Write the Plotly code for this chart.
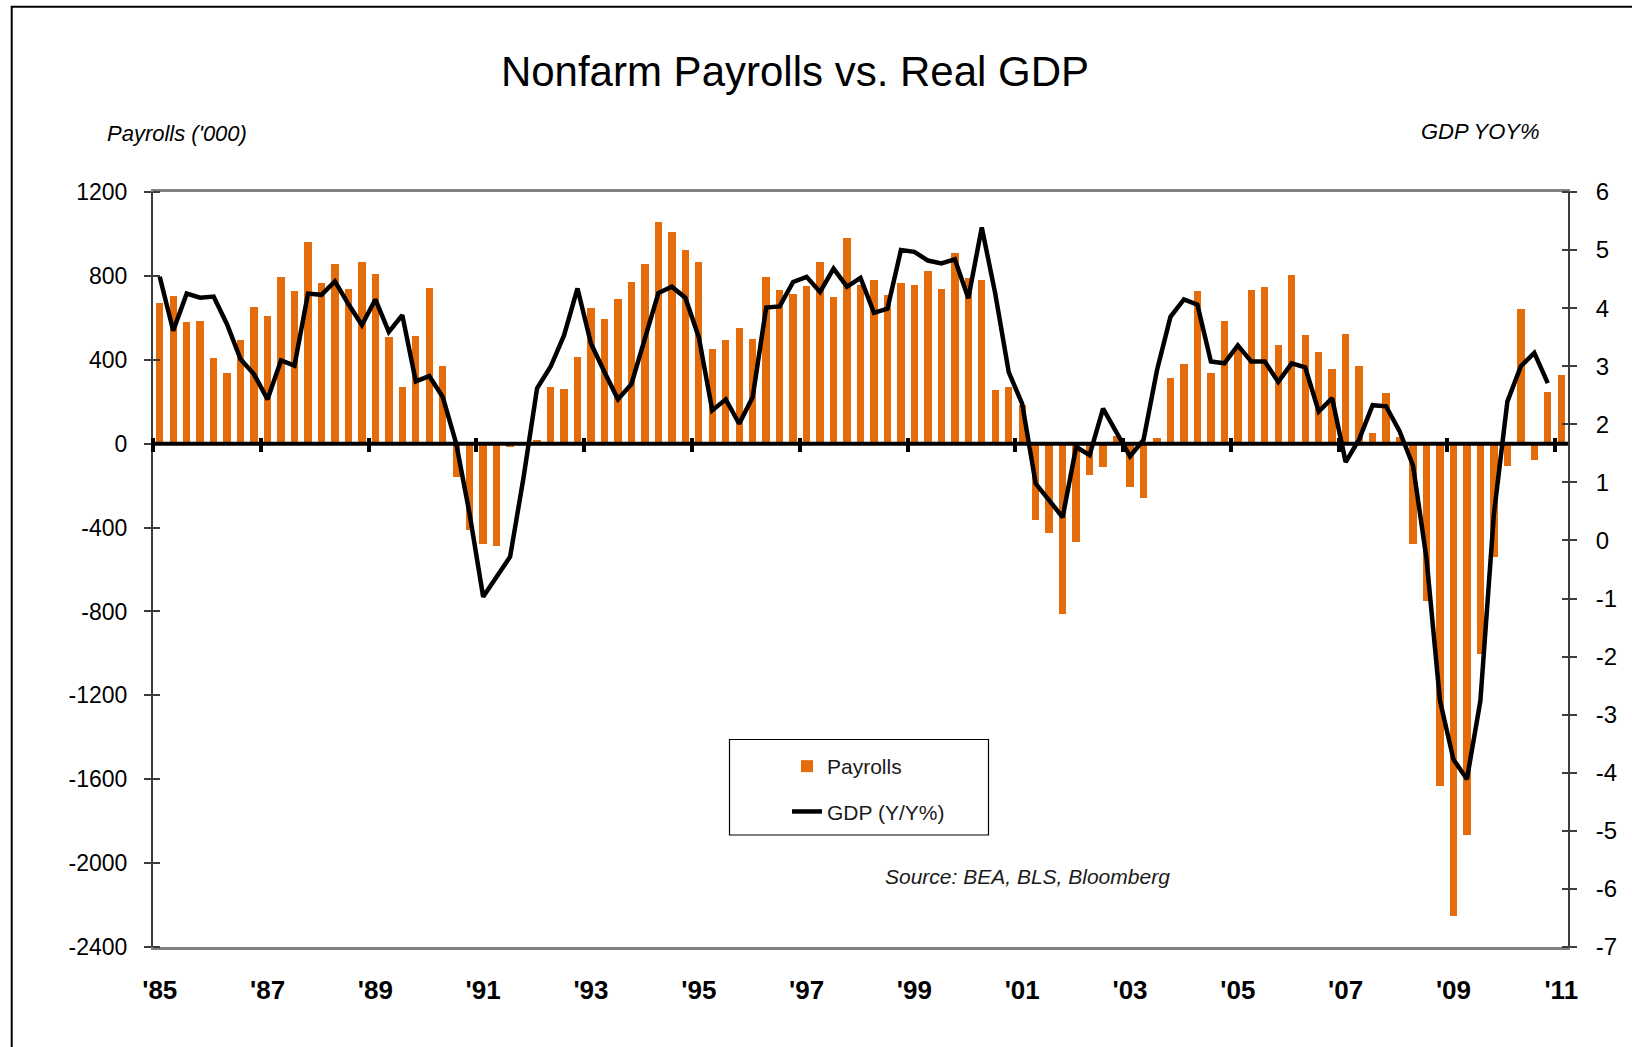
import plotly.graph_objects as go

# ---------------- data ----------------
quarters = [f"{y}Q{q}" for y in range(1985, 2012) for q in range(1, 5)][:105]

payrolls = [
    672, 704, 579, 586, 408, 339, 493, 654, 611, 795, 728, 962, 765, 858, 739, 864,
    808, 507, 272, 514, 741, 371, -160, -411, -480, -486, -16, 5, 16, 272, 261, 414,
    648, 594, 691, 771, 858, 1059, 1011, 925, 864, 451, 494, 550, 501, 795, 734, 715,
    752, 864, 698, 979, 755, 779, 710, 765, 758, 821, 739, 907, 789, 782, 254, 272,
    184, -365, -426, -813, -469, -149, -112, 38, -205, -258, 26, 315, 382, 726, 339, 586,
    460, 734, 747, 470, 806, 516, 437, 357, 523, 369, 51, 242, 34, -479, -752, -1630,
    -2254, -1864, -1004, -542, -105, 640, -77, 246, 327,
]

gdp_yoy = [
    4.54, 3.61, 4.25, 4.18, 4.20, 3.72, 3.12, 2.86, 2.43, 3.10, 3.01, 4.25, 4.23, 4.46, 4.07, 3.71,
    4.15, 3.59, 3.88, 2.74, 2.83, 2.47, 1.67, 0.45, -0.97, -0.63, -0.28, 1.09, 2.62, 2.99, 3.53, 4.34,
    3.39, 2.90, 2.43, 2.69, 3.50, 4.26, 4.37, 4.18, 3.50, 2.24, 2.43, 2.01, 2.47, 4.01, 4.03, 4.45,
    4.54, 4.28, 4.68, 4.37, 4.52, 3.92, 3.99, 5.00, 4.97, 4.82, 4.77, 4.84, 4.17, 5.39, 4.25, 2.90,
    2.35, 0.98, 0.69, 0.40, 1.61, 1.47, 2.27, 1.84, 1.45, 1.73, 2.93, 3.85, 4.15, 4.06, 3.08, 3.05,
    3.36, 3.08, 3.08, 2.73, 3.05, 2.98, 2.22, 2.45, 1.35, 1.74, 2.33, 2.31, 1.88, 1.29, -0.31, -2.76,
    -3.77, -4.11, -2.76, 0.45, 2.39, 3.00, 3.23, 2.71,
]

year_labels = ["'85", "'87", "'89", "'91", "'93", "'95", "'97", "'99",
               "'01", "'03", "'05", "'07", "'09", "'11"]
label_step = 8
label_quarters = quarters[::label_step]

left_ticks = [1200, 800, 400, 0, -400, -800, -1200, -1600, -2000, -2400]
left_tick_text = ["1200", "800", "400", "0", "-400", "-800", "-1200", "-1600", "-2000", "-2400"]
right_ticks = [6, 5, 4, 3, 2, 1, 0, -1, -2, -3, -4, -5, -6, -7]
right_tick_text = ["6", "5", "4", "3", "2", "1", "0", "-1", "-2", "-3", "-4", "-5", "-6", "-7"]

left_range = [-2400, 1200]
right_range = [-7, 6]

# ---------------- layout geometry ----------------
FIG_W, FIG_H = 1632, 1047
L, R, T, B = 153, 1568, 192, 947
PW, PH = R - L, B - T


def px_x(px):
    return (px - L) / PW


def px_y(py):
    return (B - py) / PH


FONT = "Liberation Sans, Arial, sans-serif"
ORANGE = "#E46C0A"
AXIS_COL = "#3c3c3c"
TICK_HALF = 7  # half length (px) of the crossing tick marks

n = len(quarters)
x_range = [-0.5, n - 0.5]
boundary_ticks = [i - 0.5 for i in range(0, n, label_step)]
zero_pos = (0 - left_range[0]) / (left_range[1] - left_range[0])

fig = go.Figure()
fig.add_trace(go.Bar(
    x=quarters, y=payrolls, name="Payrolls",
    marker=dict(color=ORANGE, line=dict(width=0)),
    width=0.55, yaxis="y", legendgroup="a",
))
fig.add_trace(go.Scatter(
    x=quarters[:len(gdp_yoy)], y=gdp_yoy, name="GDP (Y/Y%)", mode="lines",
    line=dict(color="black", width=4.5), yaxis="y2", legendgroup="b",
))
# empty helper traces so the helper tick axes get rendered
fig.add_trace(go.Scatter(x=[], y=[], xaxis="x2", yaxis="y3", showlegend=False, hoverinfo="skip"))
fig.add_trace(go.Scatter(x=[], y=[], xaxis="x2", yaxis="y4", showlegend=False, hoverinfo="skip"))

fig.update_layout(
    width=FIG_W, height=FIG_H,
    margin=dict(l=L, r=FIG_W - R, t=T, b=FIG_H - B, pad=0),
    paper_bgcolor="white", plot_bgcolor="white",
    font=dict(family=FONT, color="black"),
    title=dict(
        text="Nonfarm Payrolls vs. Real GDP",
        font=dict(family=FONT, size=42, color="black"),
        x=795 / FIG_W, xref="container", xanchor="center",
        y=1 - 71 / FIG_H, yref="container", yanchor="middle",
    ),
    bargap=0,
    xaxis=dict(
        type="category", range=x_range,
        tickmode="array", tickvals=label_quarters, ticktext=year_labels,
        ticks="", showgrid=False, zeroline=False,
        showline=True, linecolor="#808080", linewidth=2.5, mirror=True,
        tickfont=dict(family=FONT, size=26, weight="bold", color="black"),
        ticklabelstandoff=18,
    ),
    # crossing tick marks on the zero line (axis sits a half tick above zero)
    xaxis2=dict(
        overlaying="x", anchor="free", position=zero_pos + TICK_HALF / PH,
        range=x_range, type="linear", tickmode="array", tickvals=boundary_ticks,
        ticks="outside", ticklen=2 * TICK_HALF, tickwidth=4, tickcolor="black",
        showticklabels=False, showline=False, showgrid=False, zeroline=False,
        layer="above traces",
    ),
    yaxis=dict(
        range=left_range, tickmode="array", tickvals=left_ticks, ticktext=left_tick_text,
        ticks="outside", ticklen=TICK_HALF, tickwidth=1.5, tickcolor=AXIS_COL,
        showline=True, linecolor=AXIS_COL, linewidth=2,
        showgrid=False, zeroline=False,
        tickfont=dict(family=FONT, size=23, color="black"),
        ticklabelstandoff=12,
    ),
    yaxis2=dict(
        overlaying="y", side="right", range=right_range,
        tickmode="array", tickvals=right_ticks, ticktext=right_tick_text,
        ticks="outside", ticklen=TICK_HALF, tickwidth=1.5, tickcolor=AXIS_COL,
        showline=True, linecolor=AXIS_COL, linewidth=2,
        showgrid=False, zeroline=False,
        tickfont=dict(family=FONT, size=24, color="black"),
        ticklabelstandoff=14,
    ),
    # inner halves of the crossing ticks on the two value axes
    yaxis3=dict(
        overlaying="y", side="left", anchor="free", position=TICK_HALF / PW,
        range=left_range, tickmode="array", tickvals=left_ticks,
        ticks="outside", ticklen=TICK_HALF, tickwidth=1.5, tickcolor=AXIS_COL,
        showticklabels=False, showline=False, showgrid=False, zeroline=False,
    ),
    yaxis4=dict(
        overlaying="y", side="right", anchor="free", position=1 - TICK_HALF / PW,
        range=right_range, tickmode="array", tickvals=right_ticks,
        ticks="outside", ticklen=TICK_HALF, tickwidth=1.5, tickcolor=AXIS_COL,
        showticklabels=False, showline=False, showgrid=False, zeroline=False,
    ),
    showlegend=True,
    legend=dict(
        x=px_x(787), y=px_y(746), xanchor="left", yanchor="top",
        bgcolor="rgba(0,0,0,0)", borderwidth=0,
        font=dict(family=FONT, size=21, color="#1a1a1a"),
        tracegroupgap=15, traceorder="grouped",
    ),
    shapes=[
        # outer chart border (only left & top visible in the crop)
        dict(type="rect", xref="paper", yref="paper",
             x0=px_x(11.7), y0=px_y(6.7), x1=px_x(1800), y1=px_y(1200),
             line=dict(color="black", width=2), fillcolor="rgba(0,0,0,0)", layer="below"),
        # horizontal category axis line crossing at zero
        dict(type="line", xref="paper", yref="y", x0=0, x1=1, y0=0, y1=0,
             line=dict(color="black", width=4), layer="above"),
        # legend box
        dict(type="rect", xref="paper", yref="paper",
             x0=px_x(729.5), y0=px_y(835), x1=px_x(988.5), y1=px_y(739.5),
             line=dict(color="black", width=1.2), fillcolor="white", layer="above"),
    ],
    annotations=[
        dict(text="Payrolls ('000)", xref="paper", yref="paper",
             x=px_x(176.5), y=px_y(133), xanchor="center", yanchor="middle",
             showarrow=False, font=dict(family=FONT, size=22, style="italic", color="black")),
        dict(text="GDP YOY%", xref="paper", yref="paper",
             x=px_x(1480), y=px_y(131), xanchor="center", yanchor="middle",
             showarrow=False, font=dict(family=FONT, size=22, style="italic", color="black")),
        dict(text="Source: BEA, BLS, Bloomberg", xref="paper", yref="paper",
             x=px_x(1027), y=px_y(876.5), xanchor="center", yanchor="middle",
             showarrow=False, font=dict(family=FONT, size=21, style="italic", color="#1a1a1a")),
    ],
)

fig.write_html("out.html", config={"displayModeBar": False},
               post_script="document.body.style.margin='0';")
